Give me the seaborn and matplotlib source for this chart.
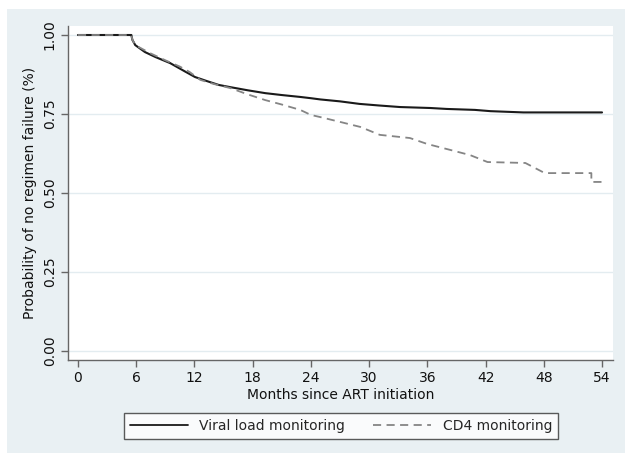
import matplotlib
matplotlib.use("Agg")
import matplotlib.pyplot as plt
import seaborn as sns
import pandas as pd
from matplotlib.patches import Rectangle
from matplotlib.lines import Line2D

vl_months = [0, 5.5, 5.6, 5.9, 6.9, 8.0, 9.5, 11, 12.06, 13.3, 14.5, 15.7, 17.5, 19.3,
             21, 22.9, 24, 25, 27, 29, 31, 33.2, 36.3, 38, 40.9, 42.5, 45.9, 50, 54]
vl_surv = [1, 1, 0.985, 0.968, 0.946, 0.93, 0.911, 0.885, 0.867, 0.854, 0.842,
           0.835, 0.825, 0.816, 0.81, 0.804, 0.8, 0.796, 0.79, 0.782, 0.777, 0.772,
           0.769, 0.766, 0.763, 0.759, 0.755, 0.755, 0.755]

cd_months = [0, 5.5, 5.6, 5.9, 7.4, 9, 10.5, 11.5, 12.6, 14, 15.7, 17.5, 19.3, 21,
             22.9, 24, 25, 27, 29.1, 31.1, 34.2, 36, 38.4, 40.4, 42.2, 46.1, 48.1,
             50, 52.9, 52.9, 54]
cd_surv = [1, 1, 0.985, 0.968, 0.943, 0.92, 0.9, 0.883, 0.858, 0.845, 0.832, 0.812,
           0.794, 0.78, 0.763, 0.747, 0.74, 0.725, 0.709, 0.684, 0.674, 0.655, 0.636,
           0.62, 0.598, 0.595, 0.563, 0.563, 0.563, 0.535, 0.535]

series_names = ["Viral load monitoring", "CD4 monitoring"]
x_ticks = [0, 6, 12, 18, 24, 30, 36, 42, 48, 54]
y_ticks = [0.0, 0.25, 0.5, 0.75, 1.0]

df = pd.concat([
    pd.DataFrame({"month": vl_months, "surv": vl_surv, "group": series_names[0]}),
    pd.DataFrame({"month": cd_months, "surv": cd_surv, "group": series_names[1]}),
], ignore_index=True)

sns.set_theme(style="white")
plt.rcParams["font.family"] = ["DejaVu Sans"]

fig = plt.figure(figsize=(6.25, 4.55), dpi=100, facecolor="white")
bg = "#e9f0f3"
fig.patches.append(Rectangle((7 / 625, 2 / 455), 1 - 7 / 625, 444 / 455,
                             transform=fig.transFigure, facecolor=bg,
                             edgecolor="none", zorder=-10))
ax = fig.add_axes([68 / 625, 95 / 455, 545 / 625, 334 / 455])
ax.set_facecolor("white")

sns.lineplot(data=df, x="month", y="surv", hue="group", style="group",
             hue_order=series_names, style_order=series_names,
             palette=["#1a1a1a", "#858585"],
             dashes={series_names[0]: "", series_names[1]: (4.5, 3)},
             estimator=None, sort=False, units="group", linewidth=1.3,
             ax=ax, legend=False)
lines = ax.get_lines()
lines[0].set_linewidth(1.5)

ax.set_xlim(-1.03, 55.13)
ax.set_ylim(-0.0285, 1.0285)
ax.set_xticks(x_ticks)
ax.set_xticklabels([str(t) for t in x_ticks])
ax.set_yticks(y_ticks)
ax.set_yticklabels([f"{t:.2f}" for t in y_ticks], rotation=90, va="center")
ax.grid(axis="y", color="#e3ecf0", linewidth=1)
ax.grid(axis="x", visible=False)
ax.set_axisbelow(True)

for s in ["top", "right"]:
    ax.spines[s].set_visible(False)
for s in ["left", "bottom"]:
    ax.spines[s].set_color("#666666")
    ax.spines[s].set_linewidth(1.0)
ax.tick_params(axis="both", which="major", direction="out", length=5, width=1,
               color="#666666", labelsize=10, labelcolor="#111111", pad=3,
               left=True, bottom=True)

ax.set_xlabel("Months since ART initiation", fontsize=10, color="#111111", labelpad=2)
ax.set_ylabel("Probability of no regimen failure (%)", fontsize=10, color="#111111",
              labelpad=4)

handles = [Line2D([], [], color="#1a1a1a", linewidth=1.3),
           Line2D([], [], color="#858585", linewidth=1.3, dashes=(4.5, 3))]
leg = fig.legend(handles, series_names, loc="center",
                 bbox_to_anchor=(341 / 625, 29 / 455),
                 ncol=2, frameon=True, fancybox=False, fontsize=10, handlelength=4.2,
                 columnspacing=2.0, borderpad=0.4, handletextpad=0.8)
leg.get_frame().set_edgecolor("#333333")
leg.get_frame().set_linewidth(1.0)
leg.get_frame().set_facecolor("white")

fig.savefig("out.png", dpi=100, facecolor="white")
